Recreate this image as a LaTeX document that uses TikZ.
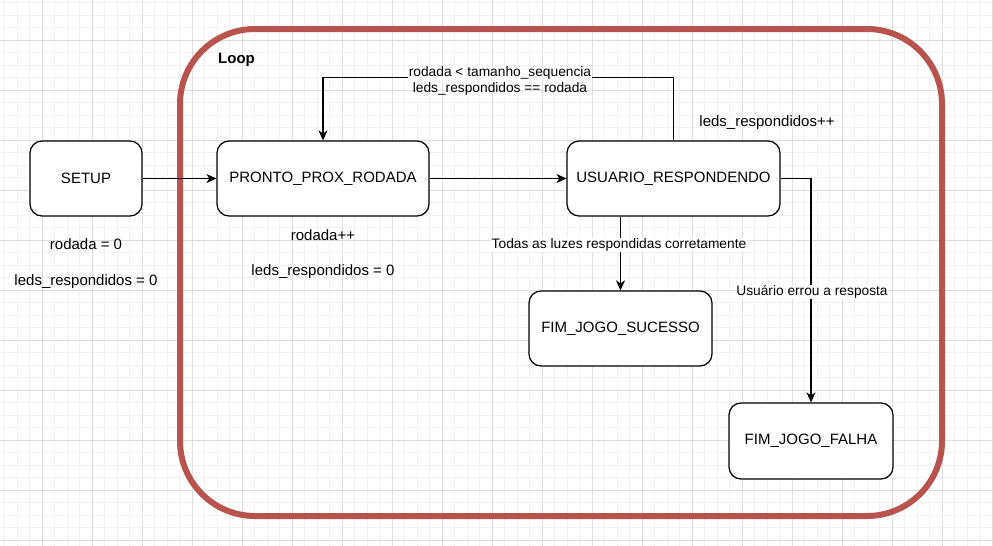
\documentclass[tikz,border=0pt]{standalone}
\usepackage{fontspec}
\setmainfont{Liberation Sans}
\usetikzlibrary{arrows.meta}
\definecolor{gridminor}{RGB}{242,242,242}
\definecolor{gridmajor}{RGB}{222,222,222}
\definecolor{loopred}{RGB}{184,84,80}
\tikzset{
  state/.style={draw=black, line width=1.25pt, fill=white, rounded corners=12pt,
    minimum height=75pt, inner sep=0pt, font=\fontsize{15}{17}\selectfont},
  edge/.style={draw=black, line width=1.2pt, -{Stealth[length=10pt,width=9pt,inset=3pt]}},
  lbl/.style={font=\fontsize{15}{16}\selectfont, inner sep=0.5pt, align=center},
  elbl/.style={font=\fontsize{13.75}{15}\selectfont, inner sep=0.5pt, align=center, fill=white},
  elblnf/.style={font=\fontsize{13.75}{15}\selectfont, inner sep=0.5pt, align=center},
}
\begin{document}
\begin{tikzpicture}[x=1pt,y=-1pt]
\useasboundingbox (0,0) rectangle (993,546);
\fill[white] (0,0) rectangle (993,546);
% grid
\foreach \i in {0,...,79} { \draw[gridminor, line width=1pt] ({4.5+12.5*\i},0) -- ({4.5+12.5*\i},546); }
\foreach \i in {0,...,43} { \draw[gridminor, line width=1pt] (0,{2.5+12.5*\i}) -- (993,{2.5+12.5*\i}); }
\foreach \i in {0,...,19} { \draw[gridmajor, line width=1pt] ({42+50*\i},0) -- ({42+50*\i},546); }
\foreach \i in {0,...,10} { \draw[gridmajor, line width=1pt] (0,{40+50*\i}) -- (993,{40+50*\i}); }
% loop container
\draw[loopred, line width=6pt, rounded corners=75pt] (180,29) rectangle (942,516);
\node[anchor=west, font=\fontsize{15}{17}\selectfont\bfseries, inner sep=0pt] (looplbl) at (218,60) {Loop};
% states
\node[state, minimum width=112pt] (setup) at (86,178.5) {SETUP};
\node[state, minimum width=212pt] (pronto) at (323,178.5) {PRONTO\_PROX\_RODADA};
\node[state, minimum width=213pt] (usuario) at (673.5,178.5) {USUARIO\_RESPONDENDO};
\node[state, minimum width=183pt] (sucesso) at (620.5,328.5) {FIM\_JOGO\_SUCESSO};
\node[state, minimum width=164pt, minimum height=76pt] (falha) at (811,441) {FIM\_JOGO\_FALHA};
% edges
\draw[edge] (setup.east) -- (pronto.west);
\draw[edge] (pronto.east) -- (usuario.west);
\draw[edge] (usuario.north) -- ++(0,-63) -| (pronto.north);
\draw[edge] (usuario.south -| sucesso.north) -- (sucesso.north);
\draw[edge] (usuario.east) -| (falha.north);
% edge labels
\node[elbl] (l1) at (500,73) {rodada < tamanho\_sequencia};
\node[elblnf] (l2) at (500,88.5) {leds\_respondidos == rodada};
\node[elbl] (l3) at (619,245) {Todas as luzes respondidas corretamente};
\node[elbl] (l4) at (812,292) {Usuário errou a resposta};
% free labels
\node[lbl] (t1) at (86,244) {rodada = 0};
\node[lbl] (t2) at (86,282) {leds\_respondidos = 0};
\node[lbl] (t3) at (323,235) {rodada++};
\node[lbl] (t4) at (323,272) {leds\_respondidos = 0};
\node[lbl] (t5) at (767,123) {leds\_respondidos++};
\end{tikzpicture}
\end{document}
